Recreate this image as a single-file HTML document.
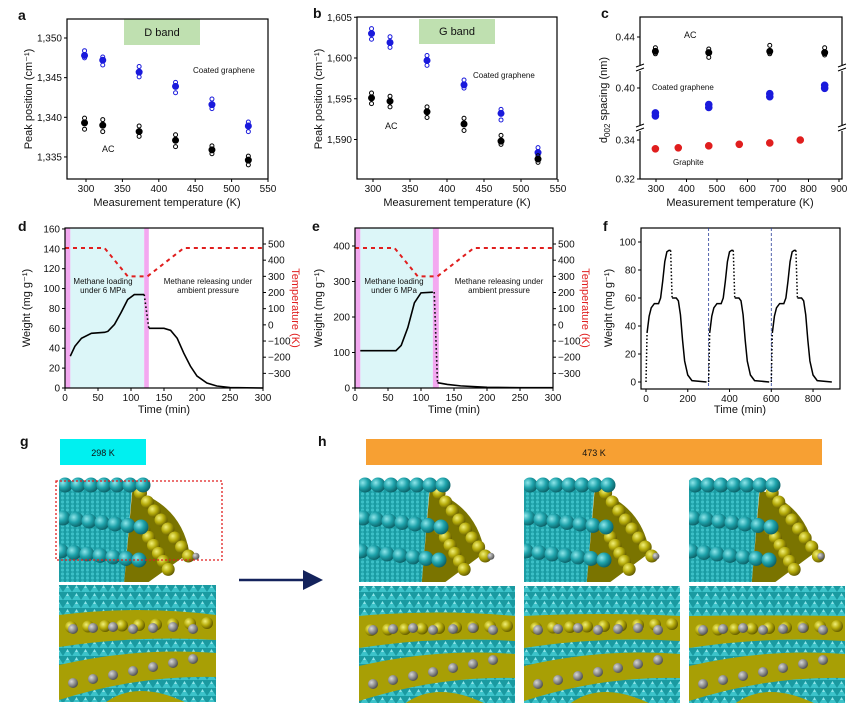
<!DOCTYPE html>
<html><head><meta charset="utf-8">
<style>
html,body{margin:0;padding:0;background:#fff;}
body{width:858px;height:711px;overflow:hidden;font-family:"Liberation Sans",Arial,sans-serif;}
svg text{font-family:"Liberation Sans",Arial,sans-serif;}
</style></head>
<body>
<svg id="fig" width="858" height="711" viewBox="0 0 858 711" xmlns="http://www.w3.org/2000/svg">
<defs>
<pattern id="lat" width="9" height="8" patternUnits="userSpaceOnUse">
<rect width="9" height="8" fill="#1a9aa1"/>
<path d="M0 8 L4.5 1 L9 8 Z" fill="#3cc3ca"/>
<path d="M4.5 1 L6 4 L3 4 Z" fill="#8fe3e7"/>
</pattern>
<pattern id="lat2" width="5" height="4" patternUnits="userSpaceOnUse">
<rect width="5" height="4" fill="#1a9ca3"/>
<circle cx="2.5" cy="2" r="1.6" fill="#3cc0c7"/>
</pattern>
<radialGradient id="gc" cx="0.35" cy="0.35" r="0.7"><stop offset="0" stop-color="#8ee6ea"/><stop offset="0.5" stop-color="#1ea3ab"/><stop offset="1" stop-color="#0b5d63"/></radialGradient>
<radialGradient id="go" cx="0.35" cy="0.35" r="0.7"><stop offset="0" stop-color="#f2f07a"/><stop offset="0.5" stop-color="#b6ac0a"/><stop offset="1" stop-color="#5e5600"/></radialGradient>
<radialGradient id="gg" cx="0.35" cy="0.35" r="0.7"><stop offset="0" stop-color="#d8d8d8"/><stop offset="0.6" stop-color="#858585"/><stop offset="1" stop-color="#4a4a4a"/></radialGradient>
<marker id="ah" markerWidth="8" markerHeight="8" refX="6" refY="4" orient="auto"><path d="M0 0 L8 4 L0 8 Z" fill="#14235c"/></marker>
</defs>
</svg>
<script>
// ---------- data ----------
const tempsAB = [298, 323, 373, 423, 473, 523];
const aBlueMean = [1347.8, 1347.2, 1345.7, 1343.9, 1341.6, 1338.9];
const aBlueOpenHi = [1348.4, 1347.6, 1346.4, 1344.4, 1342.3, 1339.4];
const aBlueOpenLo = [1347.5, 1346.6, 1345.1, 1343.1, 1341.1, 1338.2];
const aBlackMean = [1339.3, 1339.0, 1338.2, 1337.1, 1335.9, 1334.6];
const aBlackOpenHi = [1339.9, 1339.7, 1338.9, 1337.8, 1336.4, 1335.1];
const aBlackOpenLo = [1338.5, 1338.2, 1337.6, 1336.3, 1335.4, 1334.0];
const bBlueMean = [1603.0, 1601.9, 1599.7, 1596.7, 1593.2, 1588.4];
const bBlueOpenHi = [1603.6, 1602.6, 1600.3, 1597.3, 1593.7, 1589.0];
const bBlueOpenLo = [1602.3, 1601.3, 1599.1, 1596.3, 1592.4, 1587.9];
const bBlackMean = [1595.1, 1594.7, 1593.4, 1591.9, 1589.8, 1587.6];
const bBlackOpenHi = [1595.7, 1595.3, 1594.0, 1592.6, 1590.5, 1588.0];
const bBlackOpenLo = [1594.4, 1594.0, 1592.7, 1591.1, 1589.4, 1587.2];
const cTempsCG = [298, 473, 673, 853];
const cAC = [0.428, 0.427, 0.428, 0.427];
const cACHi = [0.431, 0.430, 0.433, 0.431];
const cACLo = [0.426, 0.423, 0.426, 0.425];
const cCG = [0.378, 0.385, 0.394, 0.401];
const cTempsGr = [298, 373, 473, 573, 673, 773];
const cGraphite = [0.3355, 0.336, 0.337, 0.3378, 0.3385, 0.340];
const dLoadT = [8, 15, 25, 40, 60, 65, 75, 85, 95, 105, 120];
const dLoadW = [32, 42, 50, 55, 56, 57, 64, 76, 89, 94, 94];
const dRelT = [127, 150, 160, 170, 180, 190, 200, 215, 230, 250, 300];
const dRelW = [60, 60, 58, 50, 35, 22, 12, 5, 2, 0.5, 0];
const eLoadT = [8, 62, 70, 80, 90, 100, 118];
const eLoadW = [105, 105, 120, 170, 240, 268, 270];
const eRelT = [125, 140, 160, 200, 250, 300];
const eRelW = [15, 10, 6, 2, 1, 1];
const tempT = [0, 60, 95, 125, 180, 300];
const tempK = [475, 475, 300, 300, 475, 475];
const fCycleStarts = [0, 300, 600];
const fLoadT = [5, 15, 25, 40, 60, 70, 80, 90, 100, 110, 118];
const fLoadW = [35, 47, 53, 56, 56, 60, 72, 86, 93, 94, 94];
const fRelT = [125, 145, 155, 165, 175, 185, 200, 220, 290];
const fRelW = [60, 60, 58, 48, 30, 15, 5, 1, 0];

const NS = 'http://www.w3.org/2000/svg';
const svg = document.getElementById('fig');
function mk(tag, parent) { const e = document.createElementNS(NS, tag); (parent || svg).appendChild(e); return e; }
function at(e, o) { for (const k in o) e.setAttribute(k, o[k]); return e; }
function txt(s, x, y, o, name, parent) {
  const t = mk('text', parent); at(t, Object.assign({x: x, y: y, 'font-size': 10, fill: '#111'}, o || {})); t.textContent = s;
  
  
  return t;
}
function frame(x0, y0, x1, y1, name) {
  const r = mk('rect'); at(r, {x: x0, y: y0, width: x1 - x0, height: y1 - y0, fill: 'none', stroke: '#000', 'stroke-width': 1.2});
  
  
}
function xTicks(vals, fx, yb, name, fmt) {
  vals.forEach(v => {
    const l = mk('line'); at(l, {x1: fx(v), x2: fx(v), y1: yb, y2: yb + 3, stroke: '#000'});
    
    
    txt(fmt ? fmt(v) : String(v), fx(v), yb + 13, {'text-anchor': 'middle', 'font-size': 10}, name + '-label');
  });
}
function yTicks(vals, fy, xl, name, fmt, right, color) {
  vals.forEach(v => {
    const l = mk('line'); at(l, {x1: xl, x2: right ? xl + 3 : xl - 3, y1: fy(v), y2: fy(v), stroke: '#000'});
    
    
    txt(fmt ? fmt(v) : String(v), right ? xl + 5 : xl - 5, fy(v) + 3.5, {'text-anchor': right ? 'start' : 'end', 'font-size': 10, fill: color || '#111'}, name + '-label');
  });
}
function dot(x, y, r, color, filled, name) {
  const c = mk('circle'); at(c, {cx: x, cy: y, r: r, fill: filled ? color : 'none', stroke: color, 'stroke-width': 1});
  
  
}
function poly(xs, ys, fx, fy, style, name, off) {
  const p = mk('polyline');
  at(p, Object.assign({points: xs.map((x, i) => fx(x + (off || 0)) + ',' + fy(ys[i])).join(' '), fill: 'none'}, style));
  
  
}
function rect(x, y, w, h, fill, name) {
  const r = mk('rect'); at(r, {x: x, y: y, width: w, height: h, fill: fill});
  
  
  return r;
}
function letter(s, x, y) { txt(s, x, y, {'font-size': 14, 'font-weight': 'bold'}, 'panel-label-' + s); }
const fmtC = v => v.toLocaleString('en-US');
const fmtM = v => (v < 0 ? '\u2212' + (-v) : String(v));

// ---------- panel a ----------
const xa = t => 86 + (t - 300) * 0.728, ya = v => 38 + (1350 - v) * 7.93;
letter('a', 18, 20);
rect(124, 19, 76, 26, '#bfe0b0', 'd-band-box');
txt('D band', 162, 36, {'text-anchor': 'middle', 'font-size': 11}, 'd-band-label');
tempsAB.forEach((t, i) => {
  [aBlueOpenHi, aBlueOpenLo].forEach(s => dot(xa(t), ya(s[i]), 2, '#1a1adc', false, 'a-coated-open-point'));
  dot(xa(t), ya(aBlueMean[i]), 3, '#1a1adc', true, 'a-coated-mean-point');
  [aBlackOpenHi, aBlackOpenLo].forEach(s => dot(xa(t), ya(s[i]), 2, '#000', false, 'a-ac-open-point'));
  dot(xa(t), ya(aBlackMean[i]), 3, '#000', true, 'a-ac-mean-point');
});
frame(67, 19, 268, 179, 'a-plot-frame');
xTicks([300, 350, 400, 450, 500, 550], xa, 179, 'a-x');
yTicks([1335, 1340, 1345, 1350], ya, 67, 'a-y', fmtC);
txt('Coated graphene', 193, 73, {'font-size': 8}, 'a-coated-label');
txt('AC', 102, 152, {'font-size': 9}, 'a-ac-label');
txt('Measurement temperature (K)', 167, 206, {'text-anchor': 'middle', 'font-size': 11}, 'a-x-title');
txt('Peak position (cm\u207B\u00B9)', 0, 0, {'text-anchor': 'middle', 'font-size': 11, transform: 'translate(32,99) rotate(-90)'}, 'a-y-title');

// ---------- panel b ----------
const xb = t => 373 + (t - 300) * 0.74, yb = v => 58 + (1600 - v) * 8.15;
letter('b', 313, 18);
rect(419, 19, 76, 25, '#bfe0b0', 'g-band-box');
txt('G band', 457, 35, {'text-anchor': 'middle', 'font-size': 11}, 'g-band-label');
tempsAB.forEach((t, i) => {
  [bBlueOpenHi, bBlueOpenLo].forEach(s => dot(xb(t), yb(s[i]), 2, '#1a1adc', false, 'b-coated-open-point'));
  dot(xb(t), yb(bBlueMean[i]), 3, '#1a1adc', true, 'b-coated-mean-point');
  [bBlackOpenHi, bBlackOpenLo].forEach(s => dot(xb(t), yb(s[i]), 2, '#000', false, 'b-ac-open-point'));
  dot(xb(t), yb(bBlackMean[i]), 3, '#000', true, 'b-ac-mean-point');
});
frame(357, 17, 557, 179, 'b-plot-frame');
xTicks([300, 350, 400, 450, 500, 550], xb, 179, 'b-x');
yTicks([1590, 1595, 1600, 1605], yb, 357, 'b-y', fmtC);
txt('Coated graphene', 473, 78, {'font-size': 8}, 'b-coated-label');
txt('AC', 385, 129, {'font-size': 9}, 'b-ac-label');
txt('Measurement temperature (K)', 457, 206, {'text-anchor': 'middle', 'font-size': 11}, 'b-x-title');
txt('Peak position (cm\u207B\u00B9)', 0, 0, {'text-anchor': 'middle', 'font-size': 11, transform: 'translate(322,99) rotate(-90)'}, 'b-y-title');

// ---------- panel c ----------
const xc = t => 656 + (t - 300) * 0.305;
const yc = v => v < 0.36 ? 179 - (v - 0.32) * 1950 : (v < 0.415 ? 88 + (0.40 - v) * 1200 : 37 + (0.44 - v) * 1200);
letter('c', 601, 18);
frame(640, 17, 842, 179, 'c-plot-frame');
[68, 128].forEach(y => {
  [640, 842].forEach(x => {
    rect(x - 4, y - 3, 8, 6, '#fff', 'c-axis-break-gap');
    const p = mk('path'); at(p, {d: `M${x - 4} ${y - 1} l8 -3 M${x - 4} ${y + 3} l8 -3`, stroke: '#000', fill: 'none'});
    
    
  });
});
cTempsCG.forEach((t, i) => {
  dot(xc(t), yc(cACHi[i]), 2, '#000', false, 'c-ac-open-point');
  dot(xc(t), yc(cACLo[i]), 2, '#000', false, 'c-ac-open-point');
  dot(xc(t), yc(cAC[i]), 3, '#000', true, 'c-ac-mean-point');
  dot(xc(t), yc(cCG[i]) - 1.5, 3.3, '#1a1adc', true, 'c-coated-point');
  dot(xc(t), yc(cCG[i]) + 1.5, 3.3, '#1a1adc', true, 'c-coated-point');
});
cTempsGr.forEach((t, i) => dot(xc(t), yc(cGraphite[i]), 3.3, '#e01e1e', true, 'c-graphite-point'));
xTicks([300, 400, 500, 600, 700, 800, 900], xc, 179, 'c-x');
yTicks([0.32, 0.34, 0.40, 0.44], yc, 640, 'c-y', v => v.toFixed(2));
txt('AC', 684, 38, {'font-size': 9}, 'c-ac-label');
txt('Coated graphene', 652, 90, {'font-size': 8}, 'c-coated-label');
txt('Graphite', 673, 165, {'font-size': 8}, 'c-graphite-label');
txt('Measurement temperature (K)', 740, 206, {'text-anchor': 'middle', 'font-size': 11}, 'c-x-title');
const cyt = txt('d', 0, 0, {'text-anchor': 'middle', 'font-size': 11, transform: 'translate(607,100) rotate(-90)'}, 'c-y-title');
const sub = mk('tspan', cyt); at(sub, {dy: 3, 'font-size': 8}); sub.textContent = '002';
const rest = mk('tspan', cyt); at(rest, {dy: -3}); rest.textContent = ' spacing (nm)';

// ---------- panel d & e ----------
const yT = k => 244 + (500 - k) * 0.1617;
function tgaPanel(L, xf, yf, wTicks, loadT, loadW, relT, relW, dropA, dropB, pink2, labX1, labX2, pfx) {
  rect(L, 228, 198, 160, '#fff', pfx + '-bg');
  rect(xf(8), 228, xf(pink2[0]) - xf(8), 160, '#dcf6f8', pfx + '-loading-region');
  rect(L, 228, xf(8) - L, 160, '#f3a8f0', pfx + '-pink-band-start');
  rect(xf(pink2[0]), 228, xf(pink2[1]) - xf(pink2[0]), 160, '#f3a8f0', pfx + '-pink-band-switch');
  poly(tempT, tempK, xf, yT, {stroke: '#e01e1e', 'stroke-width': 2, 'stroke-dasharray': '4,4'}, pfx + '-temperature-line');
  poly(loadT, loadW, xf, yf, {stroke: '#000', 'stroke-width': 1.6}, pfx + '-weight-loading-line');
  poly([dropA[0], dropB[0]], [dropA[1], dropB[1]], xf, yf, {stroke: '#000', 'stroke-width': 1.6, 'stroke-dasharray': '1.5,2.5'}, pfx + '-weight-drop-line');
  poly(relT, relW, xf, yf, {stroke: '#000', 'stroke-width': 1.6}, pfx + '-weight-release-line');
  frame(L, 228, L + 198, 388, pfx + '-plot-frame');
  xTicks([0, 50, 100, 150, 200, 250, 300], xf, 388, pfx + '-x');
  yTicks(wTicks, yf, L, pfx + '-y-left');
  yTicks([500, 400, 300, 200, 100, 0, -100, -200, -300], yT, L + 198, pfx + '-y-right', fmtM, true);
  txt('Methane loading', labX1, 284, {'text-anchor': 'middle', 'font-size': 8}, pfx + '-loading-text');
  txt('under 6 MPa', labX1, 293, {'text-anchor': 'middle', 'font-size': 8}, pfx + '-loading-text2');
  txt('Methane releasing under', labX2, 284, {'text-anchor': 'middle', 'font-size': 8}, pfx + '-release-text');
  txt('ambient pressure', labX2, 293, {'text-anchor': 'middle', 'font-size': 8}, pfx + '-release-text2');
  txt('Time (min)', L + 99, 413, {'text-anchor': 'middle', 'font-size': 11}, pfx + '-x-title');
  txt('Temperature (K)', 0, 0, {'text-anchor': 'middle', 'font-size': 11, fill: '#e01e1e', transform: `translate(${L + 227},308) rotate(90)`}, pfx + '-y-right-title');
}
const xd = t => 65 + t * 0.66, yd = v => 388 - v * 0.994;
tgaPanel(65, xd, yd, [0, 20, 40, 60, 80, 100, 120, 140, 160], dLoadT, dLoadW, dRelT, dRelW, [120, 94], [127, 60], [120, 127], 103, 208, 'd');
letter('d', 18, 231);
txt('Weight (mg g\u207B\u00B9)', 0, 0, {'text-anchor': 'middle', 'font-size': 11, transform: 'translate(30,308) rotate(-90)'}, 'd-y-left-title');
const xe = t => 355 + t * 0.66, ye = v => 388 - v * 0.355;
tgaPanel(355, xe, ye, [0, 100, 200, 300, 400], eLoadT, eLoadW, eRelT, eRelW, [120, 270], [125, 15], [118, 127], 394, 499, 'e');
letter('e', 312, 231);
txt('Weight (mg g\u207B\u00B9)', 0, 0, {'text-anchor': 'middle', 'font-size': 11, transform: 'translate(322,308) rotate(-90)'}, 'e-y-left-title');

// ---------- panel f ----------
const xf = t => 646 + t * 0.2088, yf = v => 382 - v * 1.4;
letter('f', 603, 231);
frame(641, 228, 840, 389, 'f-plot-frame');
[300, 600].forEach(t => {
  const l = mk('line'); at(l, {x1: xf(t), x2: xf(t), y1: 228, y2: 389, stroke: '#2a3f9a', 'stroke-dasharray': '3,2', 'stroke-width': 0.8});
  
  
});
fCycleStarts.forEach(s => {
  poly([0, 5], [0, 35], xf, yf, {stroke: '#000', 'stroke-width': 1.5, 'stroke-dasharray': '1.5,2'}, 'f-cycle-start-dotted', s);
  poly(fLoadT, fLoadW, xf, yf, {stroke: '#000', 'stroke-width': 1.5}, 'f-cycle-loading-line', s);
  poly([118, 125], [94, 60], xf, yf, {stroke: '#000', 'stroke-width': 1.5, 'stroke-dasharray': '1.5,2'}, 'f-cycle-drop-dotted', s);
  poly(fRelT, fRelW, xf, yf, {stroke: '#000', 'stroke-width': 1.5}, 'f-cycle-release-line', s);
});
xTicks([0, 200, 400, 600, 800], xf, 389, 'f-x');
yTicks([0, 20, 40, 60, 80, 100], yf, 641, 'f-y');
txt('Time (min)', 740, 413, {'text-anchor': 'middle', 'font-size': 11}, 'f-x-title');
txt('Weight (mg g\u207B\u00B9)', 0, 0, {'text-anchor': 'middle', 'font-size': 11, transform: 'translate(612,308) rotate(-90)'}, 'f-y-title');

// ---------- panels g & h (molecular snapshots) ----------
letter('g', 20, 446);
letter('h', 318, 446);
rect(60, 439, 86, 26, '#00f0f0', 'temp-298k-box');
txt('298 K', 103, 456, {'text-anchor': 'middle', 'font-size': 9}, 'temp-298k-label');
rect(366, 439, 456, 26, '#f7a033', 'temp-473k-box');
txt('473 K', 594, 456, {'text-anchor': 'middle', 'font-size': 9}, 'temp-473k-label');
let clipId = 0;
function ball(g, x, y, r, fill) { const c = mk('circle', g); at(c, {cx: x, cy: y, r: r, fill: fill}); }
function upperSnap(x, y, w, h, name, v) {
  const g = mk('g');  
  const cp = mk('clipPath', svg); cp.id = 'cp' + (++clipId); const cr = mk('rect', cp); at(cr, {x: x, y: y, width: w, height: h});
  g.setAttribute('clip-path', 'url(#cp' + clipId + ')');
  const bg = mk('rect', g); at(bg, {x: x, y: y, width: w, height: h, fill: '#fff'});
  const lat = mk('path', g); at(lat, {d: `M${x} ${y + 20} L${x + w * 0.45} ${y + 20} L${x + w * 0.4} ${y + h} L${x} ${y + h} Z`, fill: 'url(#lat2)'});
  const ol = mk('path', g); at(ol, {d: `M${x + w * 0.45} ${y + 25} Q${x + w * 0.75} ${y + 40} ${x + w * 0.8} ${y + h * 0.75} L${x + w * 0.55} ${y + h} L${x + w * 0.4} ${y + h} Z`, fill: '#7a7400'});
  for (let i = 0; i < 8; i++) ball(g, x + w * (0.5 + 0.042 * i + v * 0.01), y + 28 + i * 9, 6.5, 'url(#go)');
  for (let i = 0; i < 6; i++) ball(g, x + w * (0.52 + 0.03 * i), y + h * 0.55 + i * 8, 6.5, 'url(#go)');
  for (let r = 0; r < 3; r++) for (let i = 0; i < 7; i++) ball(g, x + 6 + i * 13 - r * 2, y + 20 + r * 33 + i * (r === 0 ? 0 : 1.5), 7.5, 'url(#gc)');
  ball(g, x + w * 0.84, y + h * 0.78, 3.5, 'url(#gg)');
}
function lowerSnap(x, y, w, h, name, v) {
  const g = mk('g');  
  const cp = mk('clipPath', svg); cp.id = 'cp' + (++clipId); const cr = mk('rect', cp); at(cr, {x: x, y: y, width: w, height: h});
  g.setAttribute('clip-path', 'url(#cp' + clipId + ')');
  const bg = mk('rect', g); at(bg, {x: x, y: y, width: w, height: h, fill: 'url(#lat)'});
  const b1 = mk('path', g); at(b1, {d: `M${x} ${y + 30} Q${x + w / 2} ${y + 20 + v * 3} ${x + w} ${y + 30} L${x + w} ${y + 55} Q${x + w / 2} ${y + 50} ${x} ${y + 62} Z`, fill: '#a89f05'});
  const b2 = mk('path', g); at(b2, {d: `M${x} ${y + 80} Q${x + w / 2} ${y + 62} ${x + w} ${y + 68} L${x + w} ${y + 92} Q${x + w / 2} ${y + 90} ${x} ${y + 115} Z`, fill: '#a89f05'});
  const b3 = mk('path', g); at(b3, {d: `M${x + w * 0.3} ${y + h} Q${x + w * 0.5} ${y + 95} ${x + w * 0.8} ${y + h} Z`, fill: '#a89f05'});
  for (let i = 0; i < 9; i++) ball(g, x + 12 + i * 17, y + 42 - i * 0.5 + (v % 2) * 2, 6, 'url(#go)');
  for (let i = 0; i < 7; i++) ball(g, x + 14 + i * 20, y + 44 - (i % 3), 5, 'url(#gg)');
  for (let i = 0; i < 7; i++) ball(g, x + 14 + i * 20, y + 98 - i * 4, 5, 'url(#gg)');
}
upperSnap(59, 465, 163, 117, 'g-upper-snapshot', 0);
lowerSnap(59, 585, 157, 117, 'g-lower-snapshot', 0);
const zr = mk('rect'); at(zr, {x: 56, y: 481, width: 166, height: 79, fill: 'none', stroke: '#e01e1e', 'stroke-width': 1.3, 'stroke-dasharray': '2,2'});


const arr = mk('line'); at(arr, {x1: 239, y1: 580, x2: 318, y2: 580, stroke: '#14235c', 'stroke-width': 2.5, 'marker-end': 'url(#ah)'});


[359, 524, 689].forEach((x, i) => {
  upperSnap(x, 465, 157, 117, 'h-upper-snapshot-' + (i + 1), i + 1);
  lowerSnap(x, 586, 156, 117, 'h-lower-snapshot-' + (i + 1), i + 1);
});
</script>
</body></html>
